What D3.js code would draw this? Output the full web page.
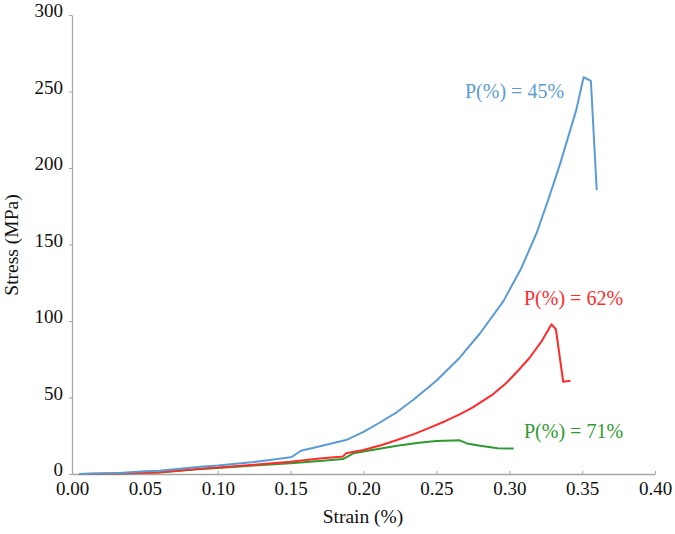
<!DOCTYPE html>
<html>
<head>
<meta charset="utf-8">
<script src="https://cdn.jsdelivr.net/npm/d3@7"></script>
<style>
  body { margin: 0; background: #fff; }
  text { font-family: "Palatino Linotype", "Book Antiqua", Palatino, "Liberation Serif", serif; }
</style>
</head>
<body>
<script>
/* Stress-strain curves (strain %, stress MPa) */
var strain45 = [0.005, 0.03, 0.05, 0.06, 0.088, 0.10, 0.125, 0.15, 0.151, 0.157, 0.168, 0.188, 0.20, 0.211, 0.223, 0.234, 0.25, 0.266, 0.28, 0.296, 0.308, 0.319, 0.327, 0.335, 0.346, 0.351, 0.356, 0.360];
var stress45 = [0, 0.5, 1.8, 2.2, 4.8, 5.6, 7.8, 11.0, 11.3, 15.2, 17.6, 22.2, 27.5, 33.5, 40.5, 48.4, 61.0, 76.0, 92.0, 113.0, 134.0, 158.0, 180.0, 203.0, 238.0, 259.3, 257.0, 185.6];

var strain62 = [0.005, 0.03, 0.06, 0.088, 0.10, 0.125, 0.15, 0.17, 0.184, 0.186, 0.188, 0.20, 0.212, 0.223, 0.235, 0.246, 0.256, 0.266, 0.275, 0.288, 0.298, 0.306, 0.314, 0.322, 0.329, 0.332, 0.337, 0.342];
var stress62 = [0, 0.3, 1.1, 3.5, 4.3, 6.0, 8.0, 10.2, 11.3, 11.5, 13.5, 15.7, 18.8, 22.2, 26.2, 30.5, 34.5, 39.0, 43.5, 51.5, 59.5, 67.5, 76.0, 86.5, 97.8, 94.6, 60.3, 61.0];

var strain71 = [0.005, 0.03, 0.06, 0.088, 0.10, 0.125, 0.15, 0.17, 0.186, 0.193, 0.208, 0.223, 0.238, 0.25, 0.266, 0.271, 0.280, 0.292, 0.303];
var stress71 = [0, 0.3, 1.0, 3.2, 4.0, 5.5, 7.0, 8.5, 9.8, 13.5, 16.0, 18.5, 20.4, 21.6, 22.0, 20.0, 18.5, 16.8, 16.6];

var seriesNames = ["P(%) = 45%", "P(%) = 62%", "P(%) = 71%"];
var xTicks = [0, 0.05, 0.10, 0.15, 0.20, 0.25, 0.30, 0.35, 0.40];
var yTicks = [0, 50, 100, 150, 200, 250, 300];

/* Layout */
var width = 675,
    height = 534;
var colors = ["#5b9bd5", "#ff2b2b", "#2f9a2f"];
var labelPos = [[465, 98], [524, 305], [524, 438]];   // where the series labels sit

var svg = d3.select("body").append("svg")
    .attr("width", width)
    .attr("height", height);

var xScale = d3.scaleLinear().domain([0, 0.40]).range([72, 655]);
var yScale = d3.scaleLinear().domain([0, 300]).range([474, 15]);

var xAxis = d3.axisBottom(xScale)
    .tickValues(xTicks)
    .tickFormat(d3.format(".2f"))
    .tickSizeInner(-3)
    .tickSizeOuter(0)
    .tickPadding(8);

var yAxis = d3.axisLeft(yScale)
    .tickValues(yTicks)
    .tickSizeInner(3)
    .tickSizeOuter(0)
    .tickPadding(6);

var gx = svg.append("g")
    .attr("class", "x axis")
    .attr("transform", "translate(0," + yScale(0) + ")")
    .call(xAxis);

var gy = svg.append("g")
    .attr("class", "y axis")
    .attr("transform", "translate(" + xScale(0) + ",0)")
    .call(yAxis);

[gx, gy].forEach(function(g) {
    g.select(".domain").attr("stroke", "#a6a6a6").attr("stroke-width", 1.3);
    g.selectAll(".tick line").attr("stroke", "#a6a6a6");
    g.selectAll(".tick text")
        .attr("fill", "#111")
        .style("font-size", "19px");
});
gy.selectAll(".tick text").attr("dy", "0.08em");

/* Curves */
var curves = [
    d3.zip(strain45, stress45),
    d3.zip(strain62, stress62),
    d3.zip(strain71, stress71)
];

var line = d3.line()
    .x(function(d) { return xScale(d[0]); })
    .y(function(d) { return yScale(d[1]); });

// drawn back to front so blue sits on top like the original
for (var i = curves.length - 1; i >= 0; i--) {
    svg.append("path")
        .datum(curves[i])
        .attr("fill", "none")
        .attr("stroke", colors[i])
        .attr("stroke-width", 2)
        .attr("stroke-linejoin", "round")
        .attr("d", line);
}

svg.selectAll("text.series-label")
    .data(seriesNames)
    .enter()
    .append("text")
    .attr("class", "series-label")
    .attr("x", function(d, i) { return labelPos[i][0]; })
    .attr("y", function(d, i) { return labelPos[i][1]; })
    .attr("fill", function(d, i) { return colors[i]; })
    .style("font-size", "20px")
    .text(function(d) { return d; });

/* Axis titles */
svg.append("text")
    .attr("x", 363)
    .attr("y", 523)
    .attr("text-anchor", "middle")
    .attr("fill", "#111")
    .style("font-size", "19.5px")
    .text("Strain (%)");

svg.append("text")
    .attr("transform", "translate(18,245) rotate(-90)")
    .attr("text-anchor", "middle")
    .attr("fill", "#111")
    .style("font-size", "19.5px")
    .text("Stress (MPa)");
</script>
</body>
</html>
